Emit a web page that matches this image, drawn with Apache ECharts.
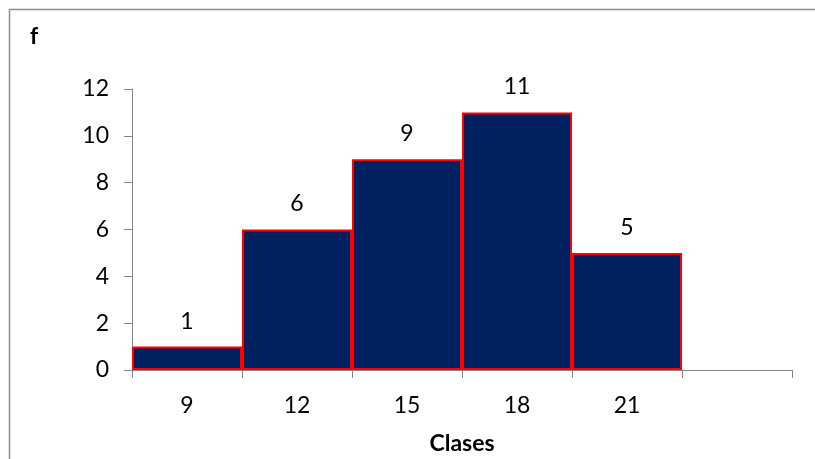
<!DOCTYPE html>
<html>
<head>
<meta charset="utf-8">
<script src="https://cdn.jsdelivr.net/npm/echarts@6/dist/echarts.min.js"></script>
<style>
  html, body { margin: 0; padding: 0; background: #fff; }
  #chart { width: 815px; height: 459px; }
</style>
</head>
<body>
<div id="chart"></div>
<script>
// Class marks and their frequencies; the sixth slot is left empty
const categories = ['9', '12', '15', '18', '21', ''];
const frequencies = [1, 6, 9, 11, 5, null];
const yTicks = { min: 0, max: 12, interval: 2 };

const axisGray = '#868686';
const font = 'Lato, "Open Sans", sans-serif';
const fs = 23;

const chart = echarts.init(document.getElementById('chart'));
chart.setOption({
  animation: false,
  backgroundColor: '#ffffff',
  grid: { left: 132, right: 23, top: 89, bottom: 89, containLabel: false, outerBoundsMode: 'none' },
  graphic: [
    {
      type: 'polyline',
      shape: { points: [[9.5, 459], [9.5, 9.5], [815, 9.5]] },
      style: { stroke: '#8c8c8c', lineWidth: 1.5, fill: null }
    },
    {
      type: 'text',
      left: 30, top: 25,
      style: { text: 'f', font: 'bold ' + fs + 'px ' + font, fill: '#000' }
    }
  ],
  xAxis: {
    type: 'category',
    data: categories,
    name: 'Clases',
    nameLocation: 'middle',
    nameGap: 62,
    nameTextStyle: { fontFamily: font, fontSize: fs, fontWeight: 'bold', color: '#000' },
    axisLine: { lineStyle: { color: axisGray, width: 1 } },
    axisTick: { show: true, length: 8, lineStyle: { color: axisGray } },
    axisLabel: { fontFamily: font, fontSize: fs, color: '#000', margin: 24 },
    splitLine: { show: false }
  },
  yAxis: {
    type: 'value',
    min: yTicks.min,
    max: yTicks.max,
    interval: yTicks.interval,
    axisLine: { show: true, lineStyle: { color: axisGray, width: 1 } },
    axisTick: { show: true, length: 8, lineStyle: { color: axisGray } },
    axisLabel: { fontFamily: font, fontSize: fs, color: '#000', margin: 23 },
    splitLine: { show: false }
  },
  series: [{
    type: 'bar',
    data: frequencies,
    barCategoryGap: '0%',
    itemStyle: { color: '#002060', borderColor: '#ff0000', borderWidth: 2 },
    label: {
      show: true,
      position: 'top',
      distance: 14,
      fontFamily: font,
      fontSize: fs,
      color: '#000'
    }
  }]
});
</script>
</body>
</html>
